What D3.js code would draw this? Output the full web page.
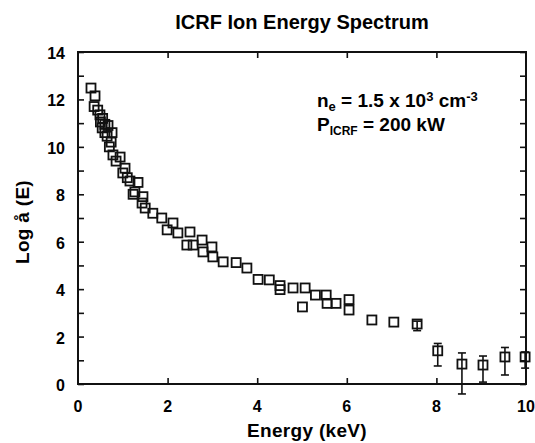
<!DOCTYPE html>
<html>
<head>
<meta charset="utf-8">
<script src="https://cdnjs.cloudflare.com/ajax/libs/d3/7.8.5/d3.min.js"></script>
<style>
  body { margin: 0; background: #fff; }
  svg { display: block; font-family: "Liberation Sans", Arial, Helvetica, sans-serif; }
</style>
</head>
<body>
<div id="chart"></div>
<script>
// energy (keV) and log f(E)
var energy = [0.29, 0.38, 0.36, 0.44, 0.49, 0.55, 0.50, 0.60, 0.67, 0.54,
              0.60, 0.76, 0.65, 0.74, 0.70, 0.78, 0.94, 0.85, 1.05, 1.00,
              1.16, 1.34, 1.10, 1.23, 1.27, 1.45, 1.43, 1.50, 1.67, 1.87,
              2.12, 1.99, 2.23, 2.50, 2.43, 2.57, 2.77, 2.79, 2.99, 3.01,
              3.24, 3.53, 3.77, 4.02, 4.27, 4.51, 4.51, 4.80, 5.07, 5.30,
              5.54, 5.56, 5.76, 5.01, 6.05, 6.05, 6.56, 7.05, 7.57, 8.03,
              8.57, 9.04, 9.53, 9.98];
var logF =   [12.48, 12.15, 11.70, 11.55, 11.35, 11.20, 11.05, 10.95, 10.90, 10.80,
              10.60, 10.60, 10.45, 10.20, 10.00, 9.66, 9.57, 9.40, 9.10, 8.90,
              8.56, 8.50, 8.70, 8.00, 8.10, 7.90, 7.63, 7.42, 7.20, 7.00,
              6.79, 6.50, 6.37, 6.41, 5.86, 5.86, 6.07, 5.57, 5.78, 5.36,
              5.15, 5.12, 4.89, 4.41, 4.39, 4.15, 3.98, 4.05, 4.05, 3.75,
              3.75, 3.40, 3.40, 3.25, 3.56, 3.12, 2.70, 2.61, 2.53, 1.40,
              0.84, 0.80, 1.14, 1.14];

// error bars on the high-energy points
var errEnergy = [7.57, 8.03, 8.57, 9.04, 9.53, 9.98];
var errLow =    [2.25, 0.76, -0.42, 0.08, 0.38, 0.67];
var errHigh =   [2.65, 1.71, 1.31, 1.18, 1.54, 1.35];

var xTicks = [0, 2, 4, 6, 8, 10];
var yTicks = [0, 2, 4, 6, 8, 10, 12, 14];

var svg = d3.select("#chart").append("svg")
            .attr("width", 535)
            .attr("height", 443);

svg.append("rect").attr("width", 535).attr("height", 443).attr("fill", "#fff");

var x = d3.scaleLinear().domain([0, 10]).range([78, 526]);
var y = d3.scaleLinear().domain([0, 14]).range([384, 52]);

// title
svg.append("text")
   .attr("x", 302)
   .attr("y", 29)
   .attr("text-anchor", "middle")
   .attr("font-size", 20)
   .attr("font-weight", "bold")
   .text("ICRF Ion Energy Spectrum");

// inward ticks on all four sides
svg.append("g")
   .attr("transform", "translate(0," + y(0) + ")")
   .call(d3.axisBottom(x).tickValues([2, 4, 6, 8]).tickSizeInner(-6).tickSizeOuter(0).tickFormat(""))
   .call(g => g.select(".domain").remove());
svg.append("g")
   .attr("transform", "translate(0," + y(14) + ")")
   .call(d3.axisTop(x).tickValues([2, 4, 6, 8]).tickSizeInner(-6).tickSizeOuter(0).tickFormat(""))
   .call(g => g.select(".domain").remove());
svg.append("g")
   .attr("transform", "translate(" + x(0) + ",0)")
   .call(d3.axisLeft(y).ticks(14).tickSizeInner(-6).tickSizeOuter(0).tickFormat(""))
   .call(g => g.select(".domain").remove());
svg.append("g")
   .attr("transform", "translate(" + x(10) + ",0)")
   .call(d3.axisRight(y).ticks(14).tickSizeInner(-6).tickSizeOuter(0).tickFormat(""))
   .call(g => g.select(".domain").remove());
svg.selectAll(".tick line").attr("stroke", "#111").attr("stroke-width", 1.6);

// frame
svg.append("rect")
   .attr("x", x(0))
   .attr("y", y(14))
   .attr("width", x(10) - x(0))
   .attr("height", y(0) - y(14))
   .attr("fill", "none")
   .attr("stroke", "#111")
   .attr("stroke-width", 2);

// tick labels
svg.selectAll(".xlab")
   .data(xTicks)
   .enter().append("text")
   .attr("class", "xlab")
   .attr("x", d => x(d))
   .attr("y", 412)
   .attr("text-anchor", "middle")
   .attr("font-size", 16)
   .attr("font-weight", "bold")
   .text(d => d);

svg.selectAll(".ylab")
   .data(yTicks)
   .enter().append("text")
   .attr("class", "ylab")
   .attr("x", 65)
   .attr("y", d => y(d) + 7)
   .attr("text-anchor", "end")
   .attr("font-size", 16)
   .attr("font-weight", "bold")
   .text(d => d);

// axis titles
svg.append("text")
   .attr("x", 307)
   .attr("y", 437)
   .attr("text-anchor", "middle")
   .attr("font-size", 19)
   .attr("font-weight", "bold")
   .attr("letter-spacing", 0.3)
   .text("Energy (keV)");

svg.append("text")
   .attr("transform", "translate(29,222) rotate(-90)")
   .attr("text-anchor", "middle")
   .attr("font-size", 19)
   .attr("font-weight", "bold")
   .attr("letter-spacing", 0.3)
   .text("Log å (E)");

// annotation
var note1 = svg.append("text").attr("x", 317).attr("y", 107)
               .attr("font-size", 19).attr("font-weight", "bold");
note1.append("tspan").text("n");
note1.append("tspan").attr("dy", 4).attr("font-size", 13).text("e");
note1.append("tspan").attr("dy", -4).text(" = 1.5 x 10");
note1.append("tspan").attr("dy", -6).attr("font-size", 13).text("3");
note1.append("tspan").attr("dy", 6).text(" cm");
note1.append("tspan").attr("dy", -6).attr("font-size", 13).text("-3");

var note2 = svg.append("text").attr("x", 317).attr("y", 131)
               .attr("font-size", 19).attr("font-weight", "bold");
note2.append("tspan").text("P");
note2.append("tspan").attr("dy", 4).attr("font-size", 12).text("ICRF");
note2.append("tspan").attr("dy", -4).text(" = 200 kW");

// error bars
var cap = 4;
var eb = svg.append("g").attr("stroke", "#111").attr("stroke-width", 1.6);
errEnergy.forEach(function(e, i) {
    eb.append("line")
      .attr("x1", x(e)).attr("x2", x(e))
      .attr("y1", y(errLow[i])).attr("y2", y(errHigh[i]));
    eb.append("line")
      .attr("x1", x(e) - cap).attr("x2", x(e) + cap)
      .attr("y1", y(errLow[i])).attr("y2", y(errLow[i]));
    eb.append("line")
      .attr("x1", x(e) - cap).attr("x2", x(e) + cap)
      .attr("y1", y(errHigh[i])).attr("y2", y(errHigh[i]));
});

// square markers
var s = 9;
svg.selectAll(".pt")
   .data(energy)
   .enter().append("rect")
   .attr("class", "pt")
   .attr("x", (d, i) => x(d) - s / 2)
   .attr("y", (d, i) => y(logF[i]) - s / 2)
   .attr("width", s)
   .attr("height", s)
   .attr("fill", "none")
   .attr("stroke", "#111")
   .attr("stroke-width", 1.8);
</script>
</body>
</html>
